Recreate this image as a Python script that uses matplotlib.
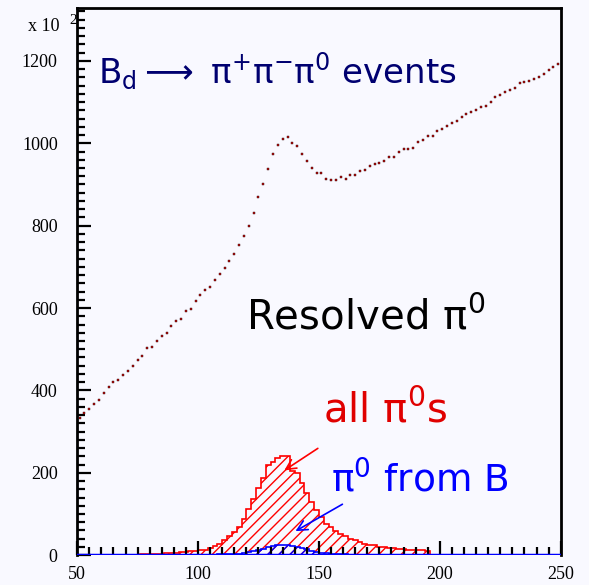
#!/usr/bin/env python3
"""B_d -> pi+ pi- pi0 : resolved pi0 invariant-mass spectrum (background + signal)."""
import numpy as np
import matplotlib
matplotlib.use('Agg')
import matplotlib.pyplot as plt
from matplotlib.ticker import MultipleLocator

plt.rcParams['mathtext.default'] = 'regular'
BG = '#f9f9ff'

# all candidates (points), bins of 2 from 50 to 250, units of 10^2
ALL_X = np.arange(51, 250, 2)
ALL_Y = [334, 346, 356, 368, 377, 393, 408, 420, 426, 437,
         448, 460, 473, 484, 502, 506, 520, 533, 540, 557,
         568, 574, 593, 598, 617, 632, 643, 651, 668, 683,
         697, 714, 731, 753, 774, 798, 831, 869, 900, 937,
         975, 997, 1010, 1015, 1000, 993, 974, 958, 940, 927,
         927, 913, 911, 911, 918, 913, 922, 922, 933, 935,
         944, 950, 953, 956, 966, 967, 979, 985, 987, 989,
         1003, 1008, 1017, 1018, 1031, 1035, 1041, 1049, 1054, 1063,
         1072, 1075, 1081, 1089, 1091, 1101, 1113, 1117, 1124, 1129,
         1135, 1147, 1148, 1151, 1155, 1162, 1168, 1177, 1185, 1192]

# all pi0s (red hatched)
RED_EDGES = np.arange(76, 198, 2)
RED_Y = [2, 3, 3, 4, 4, 5, 5, 6, 7, 8, 9, 10,
         12, 13, 18, 22, 28, 38, 46, 57, 69, 88,
         113, 136, 164, 187, 218, 226, 236, 240, 240, 205,
         200, 175, 151, 130, 110, 92, 76, 68, 58, 52,
         46, 40, 36, 32, 28, 25, 24, 21, 20, 17,
         17, 16, 15, 13, 13, 12, 12, 11]

# pi0 from B (blue hatched)
BLUE_EDGES = np.arange(104, 168, 2)
BLUE_Y = [1, 1, 2, 2, 3, 3, 4, 6, 8, 10, 13, 16, 19, 22, 24, 25,
          25, 23, 21, 17, 14, 11, 8, 6, 5, 4, 3, 2, 2, 1, 1]


def main():
    fig = plt.figure(figsize=(5.89, 5.85), dpi=100, facecolor=BG)
    ax = fig.add_axes([0.131, 0.051, 0.821, 0.935], facecolor=BG)

    ax.plot(ALL_X, ALL_Y, ls='none', marker='s', ms=1.7,
            mfc='#c01010', mec='#300000', mew=0.3)

    ax.stairs(RED_Y, RED_EDGES, fill=True, facecolor='none', edgecolor='red',
              hatch='///', lw=1.2)
    ax.stairs(BLUE_Y, BLUE_EDGES, fill=True, facecolor='none', edgecolor='blue',
              hatch='///', lw=1.2)
    ax.axhline(0, color='blue', lw=2.5, zorder=5)

    ax.annotate('', xy=(134.7, 202), xytext=(150.5, 263),
                arrowprops=dict(arrowstyle='->', color='red', lw=1.2,
                                mutation_scale=18))
    ax.annotate('', xy=(139.3, 55), xytext=(160.7, 127),
                arrowprops=dict(arrowstyle='->', color='blue', lw=1.2,
                                mutation_scale=18))

    ax.text(58.7, 1145, r'B$_{d}$$\longrightarrow$ $\pi^{+}\pi^{-}\pi^{0}$ events',
            color='#000070', fontsize=24.5)
    ax.text(119.8, 547, r'Resolved $\pi^{0}$', color='black', fontsize=29)
    ax.text(151.7, 323, r'all $\pi^{0}$s', color='#e00000', fontsize=29)
    ax.text(155, 154, r'$\pi^{0}$ from B', color='blue', fontsize=27)

    ax.set_xlim(50, 250)
    ax.set_ylim(0, 1328)
    ax.xaxis.set_major_locator(MultipleLocator(50))
    ax.xaxis.set_minor_locator(MultipleLocator(5))
    ax.yaxis.set_major_locator(MultipleLocator(200))
    ax.yaxis.set_minor_locator(MultipleLocator(20))
    ax.tick_params(which='both', direction='in', width=1.6, top=False, right=False)
    ax.tick_params(which='major', length=10, labelsize=13)
    ax.tick_params(which='minor', length=5.5)
    ax.tick_params(axis='y', which='major', pad=14)
    ax.tick_params(axis='x', which='major', pad=8)
    for lab in ax.get_xticklabels() + ax.get_yticklabels():
        lab.set_family('Liberation Serif')
    for s in ['left', 'top', 'right']:
        ax.spines[s].set_linewidth(2)
    ax.spines['bottom'].set_visible(False)

    fig.text(28/589, 1-31/585, 'x 10', family='Liberation Serif', fontsize=13)
    fig.text(69/589, 1-24/585, '2', family='Liberation Serif', fontsize=11)

    fig.savefig('out.png', dpi=100, facecolor=BG)


if __name__ == '__main__':
    main()
